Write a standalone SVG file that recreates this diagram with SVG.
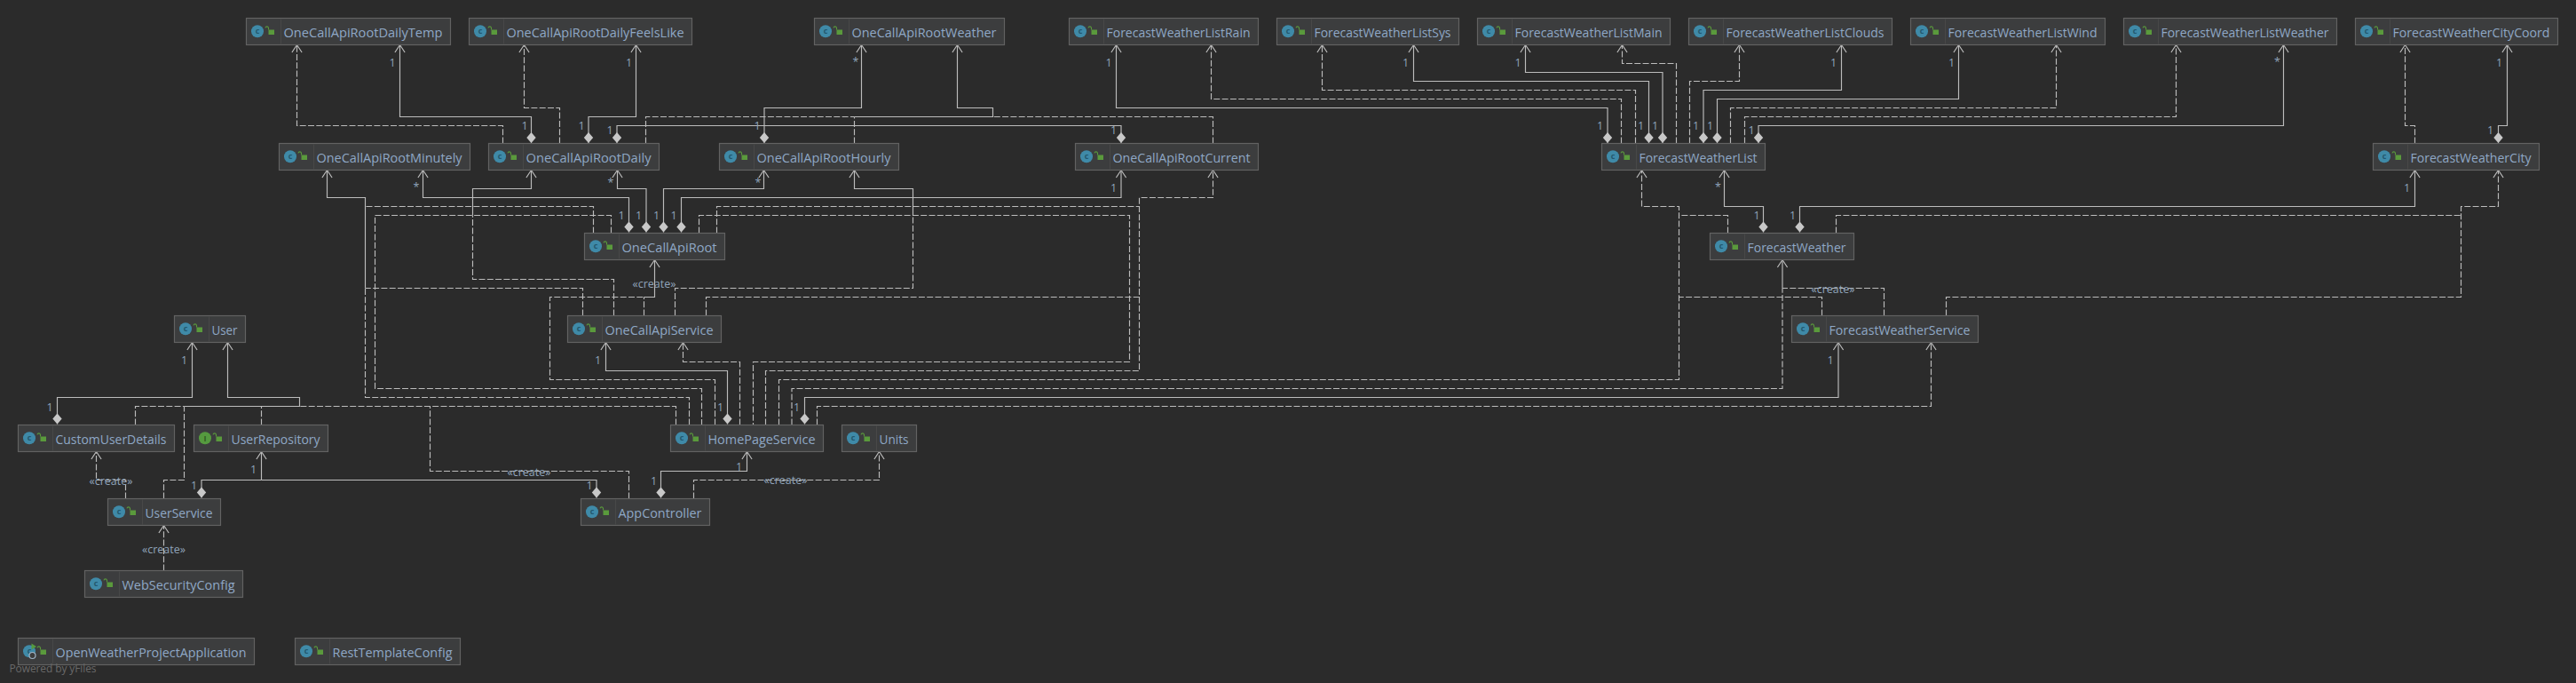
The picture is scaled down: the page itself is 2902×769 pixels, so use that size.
<svg xmlns="http://www.w3.org/2000/svg" width="2902" height="769" viewBox="0 0 2902 769">
<style>
text{font-family:"Open Sans","Noto Sans","Liberation Sans",sans-serif}
.n{fill:#3c3d3e;stroke:#626262;stroke-width:1.2}
.v{stroke:#484848;stroke-width:1}
.t{font-size:14.8px;fill:#8fa8c6}
.i{fill:#3f8aa8}
.g{fill:#559a3f}
.k{fill:#5a9a3c}
.o{fill:none;stroke:#5a9a3c;stroke-width:1.1}
.c{font-size:9px;fill:#23586e;text-anchor:middle;font-weight:700}
.s,.d{fill:none;stroke:#bcbcbc;stroke-width:1.15}
.d{stroke-dasharray:7 2.3}
.a{marker-end:url(#arrow)}
.b{marker-start:url(#dia)}
.l{font-size:12.5px;fill:#8fa3ba;text-anchor:middle}
.p{font-size:12.5px;fill:#8fa3ba;text-anchor:middle}
.w{font-size:12px;fill:#696969}
</style>
<defs>
<marker id="arrow" markerUnits="userSpaceOnUse" markerWidth="24" markerHeight="24" refX="12" refY="12" orient="auto" overflow="visible"><path transform="translate(12 12)" d="M-8.5 -5.6L0 0L-8.5 5.6" fill="none" stroke="#bcbcbc" stroke-width="1.2"/></marker>
<marker id="dia" markerUnits="userSpaceOnUse" markerWidth="28" markerHeight="28" refX="14" refY="14" orient="auto" overflow="visible"><path transform="translate(14 14)" d="M0 0L6 -5.2L12 0L6 5.2Z" fill="#c8c8c8"/></marker>
<g id="lock"><rect class="k" x="25" y="13" width="6.5" height="5.5"/><path class="o" d="M25 13V10.8A1.8 1.8 0 0 0 21.5 10.8"/></g>
</defs>
<rect width="2902" height="769" fill="#2b2b2b"/>
<g id="connectors">
<path class="d a" d="M566.5 161.5V141.5H334.5V50.5"/>
<path class="d a" d="M630.5 161.5V121.5H590.5V50.5"/>
<path class="s b a" d="M598.5 161V131.5H450.5V50.5"/>
<path class="s b a" d="M663 161V131.5H716.5V50.5"/>
<path class="s b" d="M695 161V141.5H861"/>
<path class="s b" d="M1263 161V141.5H861"/>
<path class="s b a" d="M861 161V121.5H970.5V50.5"/>
<path class="d" d="M727.5 161.5V131.5H962.5"/>
<path class="d" d="M962.5 161.5V131.5"/>
<path class="d" d="M1366.5 161.5V131.5H1118.5"/>
<path class="s a" d="M962.5 131.5H1118.5V121.5H1078.5V50.5"/>
<path class="s b a" d="M708.5 261.5V222.5H476.5V191.5"/>
<path class="s b a" d="M728 261.5V212.5H695.5V191.5"/>
<path class="s b a" d="M747.5 261.5V212.5H860.5V191.5"/>
<path class="s b a" d="M767.5 261.5V222.5H1263V191.5"/>
<path class="d" d="M668.5 262.5V232.5H411.5"/>
<path class="s a" d="M411.5 324.5V222.5H368.5V191.5"/>
<path class="d" d="M656.5 355.5V324.5H411.5"/>
<path class="d" d="M776.5 478.5V447.5H411.5V324.5"/>
<path class="d" d="M688.5 262.5V242.5H422.5V437.5H790.5V478.5"/>
<path class="d" d="M787.5 262.5V242.5H1272.5V407.5H848.5V478.5"/>
<path class="d" d="M807.5 262.5V232.5H1283.5"/>
<path class="d a" d="M795.5 355.5V334.5H1283.5V222.5H1366.5V191.5"/>
<path class="d" d="M862.5 478.5V417.5H1283.5V334.5"/>
<path class="s a" d="M532.5 242.5V212.5H598.5V191.5"/>
<path class="d" d="M691.5 355.5V314.5H532.5V242.5"/>
<path class="s a" d="M1028.5 242.5V212.5H962.5V191.5"/>
<path class="d" d="M760.5 355.5V324.5H1028.5V242.5"/>
<path class="d" d="M725.5 355.5V334.5"/>
<path class="d" d="M805.5 478.5V427.5H619.5V334.5H725.5"/>
<path class="s a" d="M725.5 334.5H737.5V292.5"/>
<path class="s b a" d="M819.5 477.5V417.5H682.5V385.5"/>
<path class="d a" d="M833.5 478.5V407.5H769.5V385.5"/>
<path class="d a" d="M877.5 478.5V427.5H1891.5V232.5H1849.5V191.5"/>
<path class="d" d="M1946.5 262.5V242.5H1891.5"/>
<path class="d" d="M2052.5 355.5V334.5H1891.5"/>
<path class="d" d="M892 478.5V437.5H2008V324.5"/>
<path class="s a" d="M2008 324.5V292.5"/>
<path class="d" d="M2122.5 355.5V324.5H2008"/>
<path class="s b a" d="M906.5 477.5V447.5H2071V385.5"/>
<path class="d a" d="M920.5 478.5V457.5H2175.5V385.5"/>
<path class="d a" d="M2192.5 355.5V334.5H2772.5V232.5H2814.5V191.5"/>
<path class="d" d="M2068.5 262.5V242.5H2772.5"/>
<path class="s b a" d="M1986.5 261.5V232.5H1942.5V191.5"/>
<path class="s b a" d="M2027.5 261.5V232.5H2720.5V191.5"/>
<path class="s b a" d="M1811 161V121.5H1257.5V50.5"/>
<path class="d a" d="M1826.5 161.5V111.5H1364.5V50.5"/>
<path class="d a" d="M1842.5 161.5V101.5H1489.5V50.5"/>
<path class="s b a" d="M1857.5 161V91.5H1592.5V50.5"/>
<path class="s b a" d="M1873 161V81.5H1718.5V50.5"/>
<path class="d a" d="M1888.5 161.5V71.5H1827.5V50.5"/>
<path class="d a" d="M1903.5 161.5V91.5H1959.5V50.5"/>
<path class="s b a" d="M1919 161V101.5H2074.5V50.5"/>
<path class="s b a" d="M1934.5 161V111.5H2206.5V50.5"/>
<path class="d a" d="M1949.5 161.5V121.5H2316.5V50.5"/>
<path class="d a" d="M1965.5 161.5V131.5H2451.5V50.5"/>
<path class="s b a" d="M1981 161V141.5H2572.5V50.5"/>
<path class="d a" d="M2720.5 161.5V141.5H2709.5V50.5"/>
<path class="s b a" d="M2814.5 161V141.5H2824.5V50.5"/>
<path class="s b a" d="M64.5 477.5V447.5H216.5V385.5"/>
<path class="d" d="M152.5 478.5V457.5H207.5"/>
<path class="d" d="M184.5 561.5V540.5H207.5V457.5"/>
<path class="d" d="M294.5 478.5V457.5"/>
<path class="d" d="M708.5 561.5V530.5H484.5V457.5"/>
<path class="d" d="M761.5 478.5V457.5H337.5"/>
<path class="s a" d="M207.5 457.5H337.5V447.5H256.5V385.5"/>
<path class="s a" d="M294.5 540.5V508.5"/>
<path class="s b" d="M227 560.5V540.5H294.5"/>
<path class="s b" d="M672 560.5V540.5H294.5"/>
<path class="d a" d="M141.5 561.5V540.5H108.5V508.5"/>
<path class="d a" d="M184.5 642.5V591.5"/>
<path class="s b a" d="M744.5 560.5V530.5H841.5V508.5"/>
<path class="d a" d="M781.5 561.5V540.5H990.5V508.5"/>
</g>
<g id="labels">
<text class="l" x="442" y="75">1</text><text class="l" x="591" y="146">1</text><text class="l" x="708.5" y="75">1</text><text class="l" x="655" y="146">1</text><text class="l" x="687" y="151">1</text><text class="l" x="964" y="74">*</text><text class="l" x="853" y="146">1</text><text class="l" x="1254.5" y="151">1</text>
<text class="l" x="469" y="215">*</text><text class="l" x="700" y="247">1</text><text class="l" x="688" y="210">*</text><text class="l" x="719.5" y="247">1</text><text class="l" x="854" y="210">*</text><text class="l" x="739.5" y="247">1</text><text class="l" x="759" y="247">1</text><text class="l" x="1254.5" y="216">1</text>
<text class="l" x="1249" y="75">1</text><text class="l" x="1802.5" y="146">1</text><text class="l" x="1583.5" y="75">1</text><text class="l" x="1848.5" y="146">1</text><text class="l" x="1710" y="75">1</text><text class="l" x="1864.5" y="146">1</text><text class="l" x="2065.5" y="75">1</text><text class="l" x="1910.5" y="146">1</text><text class="l" x="2198.5" y="75">1</text><text class="l" x="1926.5" y="146">1</text><text class="l" x="2565.5" y="74">*</text><text class="l" x="1973" y="151">1</text>
<text class="l" x="2815.5" y="75">1</text><text class="l" x="2805.5" y="151">1</text><text class="l" x="2711.5" y="216">1</text><text class="l" x="1935.5" y="215">*</text><text class="l" x="1979" y="247">1</text><text class="l" x="2019.5" y="247">1</text>
<text class="l" x="2062" y="410">1</text><text class="l" x="207.5" y="410">1</text><text class="l" x="56" y="463">1</text><text class="l" x="285.5" y="533">1</text><text class="l" x="218.5" y="551">1</text><text class="l" x="664" y="551">1</text>
<text class="l" x="673.5" y="410">1</text><text class="l" x="811.5" y="463">1</text><text class="l" x="897.5" y="463">1</text><text class="l" x="832.5" y="530">1</text><text class="l" x="736.5" y="546">1</text>
<text class="p" x="737" y="323.5">«create»</text><text class="p" x="125" y="545.5">«create»</text><text class="p" x="184.5" y="622.5">«create»</text><text class="p" x="596" y="535.5">«create»</text><text class="p" x="885" y="545">«create»</text><text class="p" x="2065" y="329.5">«create»</text>
</g>
<g id="OneCallApiRootDailyTemp" transform="translate(277.5 20.5)"><rect class="n" width="230" height="30"/><path class="v" d="M39 1V29"/><circle class="i" cx="12.5" cy="14.8" r="7"/><text class="c" x="12.5" y="17.8">c</text><use href="#lock"/><text class="t" x="42" y="21.5" textLength="179" lengthAdjust="spacingAndGlyphs">OneCallApiRootDailyTemp</text></g>
<g id="OneCallApiRootDailyFeelsLike" transform="translate(528.5 20.5)"><rect class="n" width="251" height="30"/><path class="v" d="M39 1V29"/><circle class="i" cx="12.5" cy="14.8" r="7"/><text class="c" x="12.5" y="17.8">c</text><use href="#lock"/><text class="t" x="42" y="21.5" textLength="200" lengthAdjust="spacingAndGlyphs">OneCallApiRootDailyFeelsLike</text></g>
<g id="OneCallApiRootWeather" transform="translate(917.5 20.5)"><rect class="n" width="214" height="30"/><path class="v" d="M39 1V29"/><circle class="i" cx="12.5" cy="14.8" r="7"/><text class="c" x="12.5" y="17.8">c</text><use href="#lock"/><text class="t" x="42" y="21.5" textLength="163" lengthAdjust="spacingAndGlyphs">OneCallApiRootWeather</text></g>
<g id="ForecastWeatherListRain" transform="translate(1204.5 20.5)"><rect class="n" width="213" height="30"/><path class="v" d="M39 1V29"/><circle class="i" cx="12.5" cy="14.8" r="7"/><text class="c" x="12.5" y="17.8">c</text><use href="#lock"/><text class="t" x="42" y="21.5" textLength="162" lengthAdjust="spacingAndGlyphs">ForecastWeatherListRain</text></g>
<g id="ForecastWeatherListSys" transform="translate(1438.5 20.5)"><rect class="n" width="205" height="30"/><path class="v" d="M39 1V29"/><circle class="i" cx="12.5" cy="14.8" r="7"/><text class="c" x="12.5" y="17.8">c</text><use href="#lock"/><text class="t" x="42" y="21.5" textLength="154" lengthAdjust="spacingAndGlyphs">ForecastWeatherListSys</text></g>
<g id="ForecastWeatherListMain" transform="translate(1664.5 20.5)"><rect class="n" width="217" height="30"/><path class="v" d="M39 1V29"/><circle class="i" cx="12.5" cy="14.8" r="7"/><text class="c" x="12.5" y="17.8">c</text><use href="#lock"/><text class="t" x="42" y="21.5" textLength="166" lengthAdjust="spacingAndGlyphs">ForecastWeatherListMain</text></g>
<g id="ForecastWeatherListClouds" transform="translate(1902.5 20.5)"><rect class="n" width="229" height="30"/><path class="v" d="M39 1V29"/><circle class="i" cx="12.5" cy="14.8" r="7"/><text class="c" x="12.5" y="17.8">c</text><use href="#lock"/><text class="t" x="42" y="21.5" textLength="178" lengthAdjust="spacingAndGlyphs">ForecastWeatherListClouds</text></g>
<g id="ForecastWeatherListWind" transform="translate(2152.5 20.5)"><rect class="n" width="219" height="30"/><path class="v" d="M39 1V29"/><circle class="i" cx="12.5" cy="14.8" r="7"/><text class="c" x="12.5" y="17.8">c</text><use href="#lock"/><text class="t" x="42" y="21.5" textLength="168" lengthAdjust="spacingAndGlyphs">ForecastWeatherListWind</text></g>
<g id="ForecastWeatherListWeather" transform="translate(2392.5 20.5)"><rect class="n" width="240" height="30"/><path class="v" d="M39 1V29"/><circle class="i" cx="12.5" cy="14.8" r="7"/><text class="c" x="12.5" y="17.8">c</text><use href="#lock"/><text class="t" x="42" y="21.5" textLength="189" lengthAdjust="spacingAndGlyphs">ForecastWeatherListWeather</text></g>
<g id="ForecastWeatherCityCoord" transform="translate(2653.5 20.5)"><rect class="n" width="228" height="30"/><path class="v" d="M39 1V29"/><circle class="i" cx="12.5" cy="14.8" r="7"/><text class="c" x="12.5" y="17.8">c</text><use href="#lock"/><text class="t" x="42" y="21.5" textLength="177" lengthAdjust="spacingAndGlyphs">ForecastWeatherCityCoord</text></g>
<g id="OneCallApiRootMinutely" transform="translate(314.5 161.5)"><rect class="n" width="215" height="30"/><path class="v" d="M39 1V29"/><circle class="i" cx="12.5" cy="14.8" r="7"/><text class="c" x="12.5" y="17.8">c</text><use href="#lock"/><text class="t" x="42" y="21.5" textLength="164" lengthAdjust="spacingAndGlyphs">OneCallApiRootMinutely</text></g>
<g id="OneCallApiRootDaily" transform="translate(550.5 161.5)"><rect class="n" width="192" height="30"/><path class="v" d="M39 1V29"/><circle class="i" cx="12.5" cy="14.8" r="7"/><text class="c" x="12.5" y="17.8">c</text><use href="#lock"/><text class="t" x="42" y="21.5" textLength="141" lengthAdjust="spacingAndGlyphs">OneCallApiRootDaily</text></g>
<g id="OneCallApiRootHourly" transform="translate(810.5 161.5)"><rect class="n" width="202" height="30"/><path class="v" d="M39 1V29"/><circle class="i" cx="12.5" cy="14.8" r="7"/><text class="c" x="12.5" y="17.8">c</text><use href="#lock"/><text class="t" x="42" y="21.5" textLength="151" lengthAdjust="spacingAndGlyphs">OneCallApiRootHourly</text></g>
<g id="OneCallApiRootCurrent" transform="translate(1211.5 161.5)"><rect class="n" width="206" height="30"/><path class="v" d="M39 1V29"/><circle class="i" cx="12.5" cy="14.8" r="7"/><text class="c" x="12.5" y="17.8">c</text><use href="#lock"/><text class="t" x="42" y="21.5" textLength="155" lengthAdjust="spacingAndGlyphs">OneCallApiRootCurrent</text></g>
<g id="ForecastWeatherList" transform="translate(1804.5 161.5)"><rect class="n" width="184" height="30"/><path class="v" d="M39 1V29"/><circle class="i" cx="12.5" cy="14.8" r="7"/><text class="c" x="12.5" y="17.8">c</text><use href="#lock"/><text class="t" x="42" y="21.5" textLength="133" lengthAdjust="spacingAndGlyphs">ForecastWeatherList</text></g>
<g id="ForecastWeatherCity" transform="translate(2673.5 161.5)"><rect class="n" width="187" height="30"/><path class="v" d="M39 1V29"/><circle class="i" cx="12.5" cy="14.8" r="7"/><text class="c" x="12.5" y="17.8">c</text><use href="#lock"/><text class="t" x="42" y="21.5" textLength="136" lengthAdjust="spacingAndGlyphs">ForecastWeatherCity</text></g>
<g id="OneCallApiRoot" transform="translate(658.5 262.5)"><rect class="n" width="158" height="30"/><path class="v" d="M39 1V29"/><circle class="i" cx="12.5" cy="14.8" r="7"/><text class="c" x="12.5" y="17.8">c</text><use href="#lock"/><text class="t" x="42" y="21.5" textLength="107" lengthAdjust="spacingAndGlyphs">OneCallApiRoot</text></g>
<g id="ForecastWeather" transform="translate(1926.5 262.5)"><rect class="n" width="162" height="30"/><path class="v" d="M39 1V29"/><circle class="i" cx="12.5" cy="14.8" r="7"/><text class="c" x="12.5" y="17.8">c</text><use href="#lock"/><text class="t" x="42" y="21.5" textLength="111" lengthAdjust="spacingAndGlyphs">ForecastWeather</text></g>
<g id="User" transform="translate(196.5 355.5)"><rect class="n" width="80" height="30"/><path class="v" d="M39 1V29"/><circle class="i" cx="12.5" cy="14.8" r="7"/><text class="c" x="12.5" y="17.8">c</text><use href="#lock"/><text class="t" x="42" y="21.5" textLength="29" lengthAdjust="spacingAndGlyphs">User</text></g>
<g id="OneCallApiService" transform="translate(639.5 355.5)"><rect class="n" width="173" height="30"/><path class="v" d="M39 1V29"/><circle class="i" cx="12.5" cy="14.8" r="7"/><text class="c" x="12.5" y="17.8">c</text><use href="#lock"/><text class="t" x="42" y="21.5" textLength="122" lengthAdjust="spacingAndGlyphs">OneCallApiService</text></g>
<g id="ForecastWeatherService" transform="translate(2018.5 355.5)"><rect class="n" width="210" height="30"/><path class="v" d="M39 1V29"/><circle class="i" cx="12.5" cy="14.8" r="7"/><text class="c" x="12.5" y="17.8">c</text><use href="#lock"/><text class="t" x="42" y="21.5" textLength="159" lengthAdjust="spacingAndGlyphs">ForecastWeatherService</text></g>
<g id="CustomUserDetails" transform="translate(20.5 478.5)"><rect class="n" width="176" height="30"/><path class="v" d="M39 1V29"/><circle class="i" cx="12.5" cy="14.8" r="7"/><text class="c" x="12.5" y="17.8">c</text><use href="#lock"/><text class="t" x="42" y="21.5" textLength="125" lengthAdjust="spacingAndGlyphs">CustomUserDetails</text></g>
<g id="UserRepository" transform="translate(218.5 478.5)"><rect class="n" width="151" height="30"/><path class="v" d="M39 1V29"/><circle class="g" cx="12.5" cy="14.8" r="7"/><text class="c" x="12.5" y="18" style="fill:#2f5a22">I</text><use href="#lock"/><text class="t" x="42" y="21.5" textLength="100" lengthAdjust="spacingAndGlyphs">UserRepository</text></g>
<g id="HomePageService" transform="translate(755.5 478.5)"><rect class="n" width="172" height="30"/><path class="v" d="M39 1V29"/><circle class="i" cx="12.5" cy="14.8" r="7"/><text class="c" x="12.5" y="17.8">c</text><use href="#lock"/><text class="t" x="42" y="21.5" textLength="121" lengthAdjust="spacingAndGlyphs">HomePageService</text></g>
<g id="Units" transform="translate(948.5 478.5)"><rect class="n" width="84" height="30"/><path class="v" d="M39 1V29"/><circle class="i" cx="12.5" cy="14.8" r="7"/><text class="c" x="12.5" y="17.8">c</text><use href="#lock"/><text class="t" x="42" y="21.5" textLength="33" lengthAdjust="spacingAndGlyphs">Units</text></g>
<g id="UserService" transform="translate(121.5 561.5)"><rect class="n" width="127" height="30"/><path class="v" d="M39 1V29"/><circle class="i" cx="12.5" cy="14.8" r="7"/><text class="c" x="12.5" y="17.8">c</text><use href="#lock"/><text class="t" x="42" y="21.5" textLength="76" lengthAdjust="spacingAndGlyphs">UserService</text></g>
<g id="AppController" transform="translate(654.5 561.5)"><rect class="n" width="145" height="30"/><path class="v" d="M39 1V29"/><circle class="i" cx="12.5" cy="14.8" r="7"/><text class="c" x="12.5" y="17.8">c</text><use href="#lock"/><text class="t" x="42" y="21.5" textLength="94" lengthAdjust="spacingAndGlyphs">AppController</text></g>
<g id="WebSecurityConfig" transform="translate(95.5 642.5)"><rect class="n" width="178" height="30"/><path class="v" d="M39 1V29"/><circle class="i" cx="12.5" cy="14.8" r="7"/><text class="c" x="12.5" y="17.8">c</text><use href="#lock"/><text class="t" x="42" y="21.5" textLength="127" lengthAdjust="spacingAndGlyphs">WebSecurityConfig</text></g>
<g id="OpenWeatherProjectApplication" transform="translate(20.5 718.5)"><rect class="n" width="266" height="30"/><path class="v" d="M39 1V29"/><circle class="i" cx="12.5" cy="14.8" r="7"/><text class="c" x="12.5" y="17.8">c</text><circle cx="16" cy="19.5" r="3.5" fill="#3c3d3e" stroke="#9fb3c6" stroke-width="1.2"/><path d="M15 6V13L20.5 9.5Z" fill="#559a3f"/><use href="#lock"/><text class="t" x="42" y="21.5" textLength="215" lengthAdjust="spacingAndGlyphs">OpenWeatherProjectApplication</text></g>
<g id="RestTemplateConfig" transform="translate(332.5 718.5)"><rect class="n" width="186" height="30"/><path class="v" d="M39 1V29"/><circle class="i" cx="12.5" cy="14.8" r="7"/><text class="c" x="12.5" y="17.8">c</text><use href="#lock"/><text class="t" x="42" y="21.5" textLength="135" lengthAdjust="spacingAndGlyphs">RestTemplateConfig</text></g>
<text class="w" x="10.5" y="757" textLength="98">Powered by yFiles</text>
</svg>
